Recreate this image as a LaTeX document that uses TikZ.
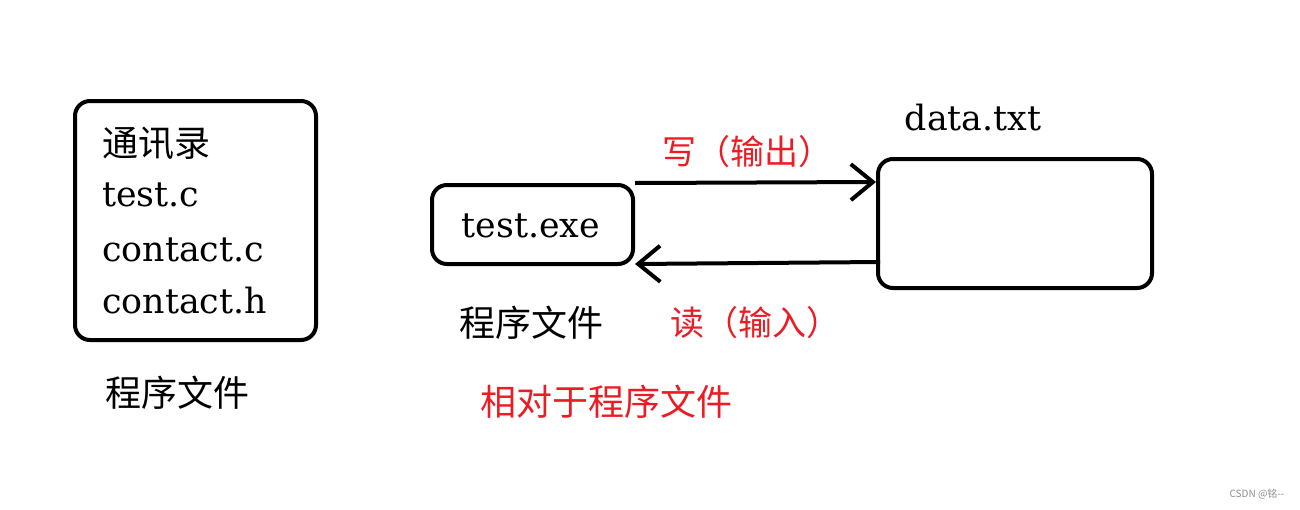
\documentclass[tikz,border=0pt]{standalone}
\usepackage{fontspec}
\setmainfont{DejaVu Serif}
\newfontfamily\cjk{Noto Sans CJK SC}
\usetikzlibrary{arrows.meta}
\definecolor{lblred}{RGB}{236,28,36}
\tikzset{
  box/.style={draw, line width=2pt, rounded corners=7.5pt, inner sep=0pt},
  fname/.style={font=\fontsize{17.4}{20}\selectfont, inner sep=0pt},
  zh/.style={font=\cjk\fontsize{18}{20}\selectfont, inner sep=0pt},
  zhred/.style={font=\cjk\fontsize{17}{20}\selectfont, text=lblred, inner sep=0pt},
  flow/.style={line width=2pt, -{Straight Barb[length=11pt,width=18pt,line width=2pt]}},
  wmark/.style={font=\cjk\fontsize{5}{6}\selectfont, text=black!45, inner sep=0pt}
}
\begin{document}
\begin{tikzpicture}[x=0.5pt,y=-0.5pt]
\useasboundingbox (0,0) rectangle (1300,509);
% left box
\node[box, minimum width=120.5pt, minimum height=119.5pt] (src) at (195.5,220.5) {};
\node[zh, anchor=west] (t0) at (102,143) {通讯录};
\node[fname, anchor=base west] (t1) at (102,206) {test.c};
\node[fname, anchor=base west] (t2) at (102,261) {contact.c};
\node[fname, anchor=base west] (t3) at (102,313) {contact.h};
\node[zh] (lab1) at (177,393) {程序文件};
% exe box
\node[box, minimum width=100.5pt, minimum height=39.5pt] (exe) at (532.5,224.5) {};
\node[fname, anchor=base] (exet) at (531,237) {test.exe};
\node[zh] (lab2) at (531,323) {程序文件};
% data box
\node[box, minimum width=137pt, minimum height=64.5pt] (data) at (1015,223.5) {};
\node[fname, anchor=base] (datat) at (973,130) {data.txt};
% arrows
\draw[flow] (exe.north east) -- ([yshift=20.75pt]data.west);
\draw[flow] ([xshift=2pt,yshift=-19.25pt]data.west) -- ([yshift=1pt]exe.south east);
\node[zhred] (w) at (747,152) {写（输出）};
\node[zhred] (r) at (755,323) {读（输入）};
\node[zhred, font=\cjk\fontsize{18}{20}\selectfont] (rel) at (606,402) {相对于程序文件};
\node[wmark] (wm) at (1257,494) {CSDN @铭--};
\end{tikzpicture}
\end{document}
